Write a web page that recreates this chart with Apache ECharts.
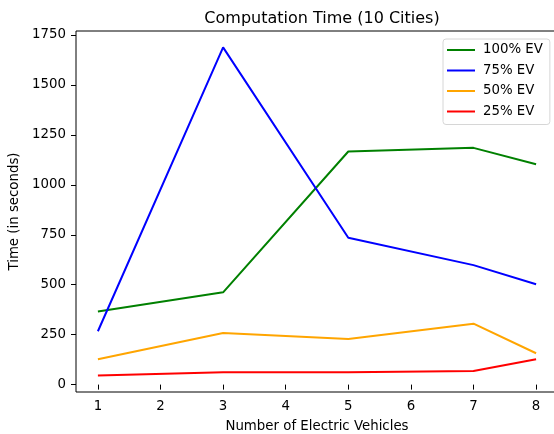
<!DOCTYPE html>
<html><head><meta charset="utf-8">
<script src="https://cdn.jsdelivr.net/npm/echarts@6/dist/echarts.min.js"></script>
<style>html,body{margin:0;padding:0;background:#fff}#c{width:554px;height:434px}</style>
</head><body><div id="c"></div>
<script>
const xValues = [1, 3, 5, 7, 8];
const xTicks = [1, 2, 3, 4, 5, 6, 7, 8];
const yTicks = [0, 250, 500, 750, 1000, 1250, 1500, 1750];
const ev100 = [366, 462, 1167, 1185, 1103];
const ev75 = [267, 1688, 735, 598, 502];
const ev50 = [127, 258, 228, 305, 157];
const ev25 = [45, 62, 62, 68, 127];
const seriesNames = ['100% EV', '75% EV', '50% EV', '25% EV'];
const seriesColors = ['#008000', '#0000ff', '#ffa500', '#ff0000'];
const seriesData = [ev100, ev75, ev50, ev25];

const font = 'DejaVu Sans';
const fs = 13.33;
const chart = echarts.init(document.getElementById('c'), null, {renderer: 'canvas'});
chart.setOption({
  animation: false,
  title: {text: 'Computation Time (10 Cities)', left: 317, textAlign: 'center', top: 6,
    textStyle: {fontFamily: font, fontSize: 16, fontWeight: 'normal', color: '#000'}},
  grid: {left: 76, top: 31, width: 482, bottom: 42, show: true, borderColor: '#000', borderWidth: 1,
    outerBoundsMode: 'none', containLabel: false},
  legend: {orient: 'vertical', left: 443, top: 39, itemWidth: 28, itemHeight: 2, itemGap: 6.5,
    icon: 'rect',
    padding: [4, 7, 6, 4], backgroundColor: 'rgba(255,255,255,0.8)', borderColor: '#d6d6d6', borderWidth: 1, borderRadius: 3,
    textStyle: {fontFamily: font, fontSize: fs, lineHeight: 14, color: '#000', padding: [0, 0, 0, 3]},
    data: seriesNames},
  xAxis: {type: 'value', min: 0.65, max: 8.35,
    name: 'Number of Electric Vehicles', nameLocation: 'middle', nameGap: 28,
    nameTextStyle: {fontFamily: font, fontSize: fs, color: '#000'},
    axisLine: {show: false}, splitLine: {show: false},
    axisTick: {show: true, length: 5, lineStyle: {color: '#000'}, customValues: xTicks},
    axisLabel: {fontFamily: font, fontSize: fs, color: '#000', margin: 8, customValues: xTicks}},
  yAxis: {type: 'value', min: -37, max: 1770,
    name: 'Time (in seconds)', nameLocation: 'middle', nameGap: 51,
    nameTextStyle: {fontFamily: font, fontSize: fs, color: '#000'},
    axisLine: {show: false}, splitLine: {show: false},
    axisTick: {show: true, length: 5, lineStyle: {color: '#000'}, customValues: yTicks},
    axisLabel: {fontFamily: font, fontSize: fs, color: '#000', margin: 10, customValues: yTicks,
      formatter: v => String(v)}},
  series: seriesNames.map((n, i) => ({
    name: n, type: 'line', symbol: 'none', color: seriesColors[i],
    lineStyle: {width: 2, color: seriesColors[i]},
    data: xValues.map((x, j) => [x, seriesData[i][j]])
  }))
});
</script></body></html>
